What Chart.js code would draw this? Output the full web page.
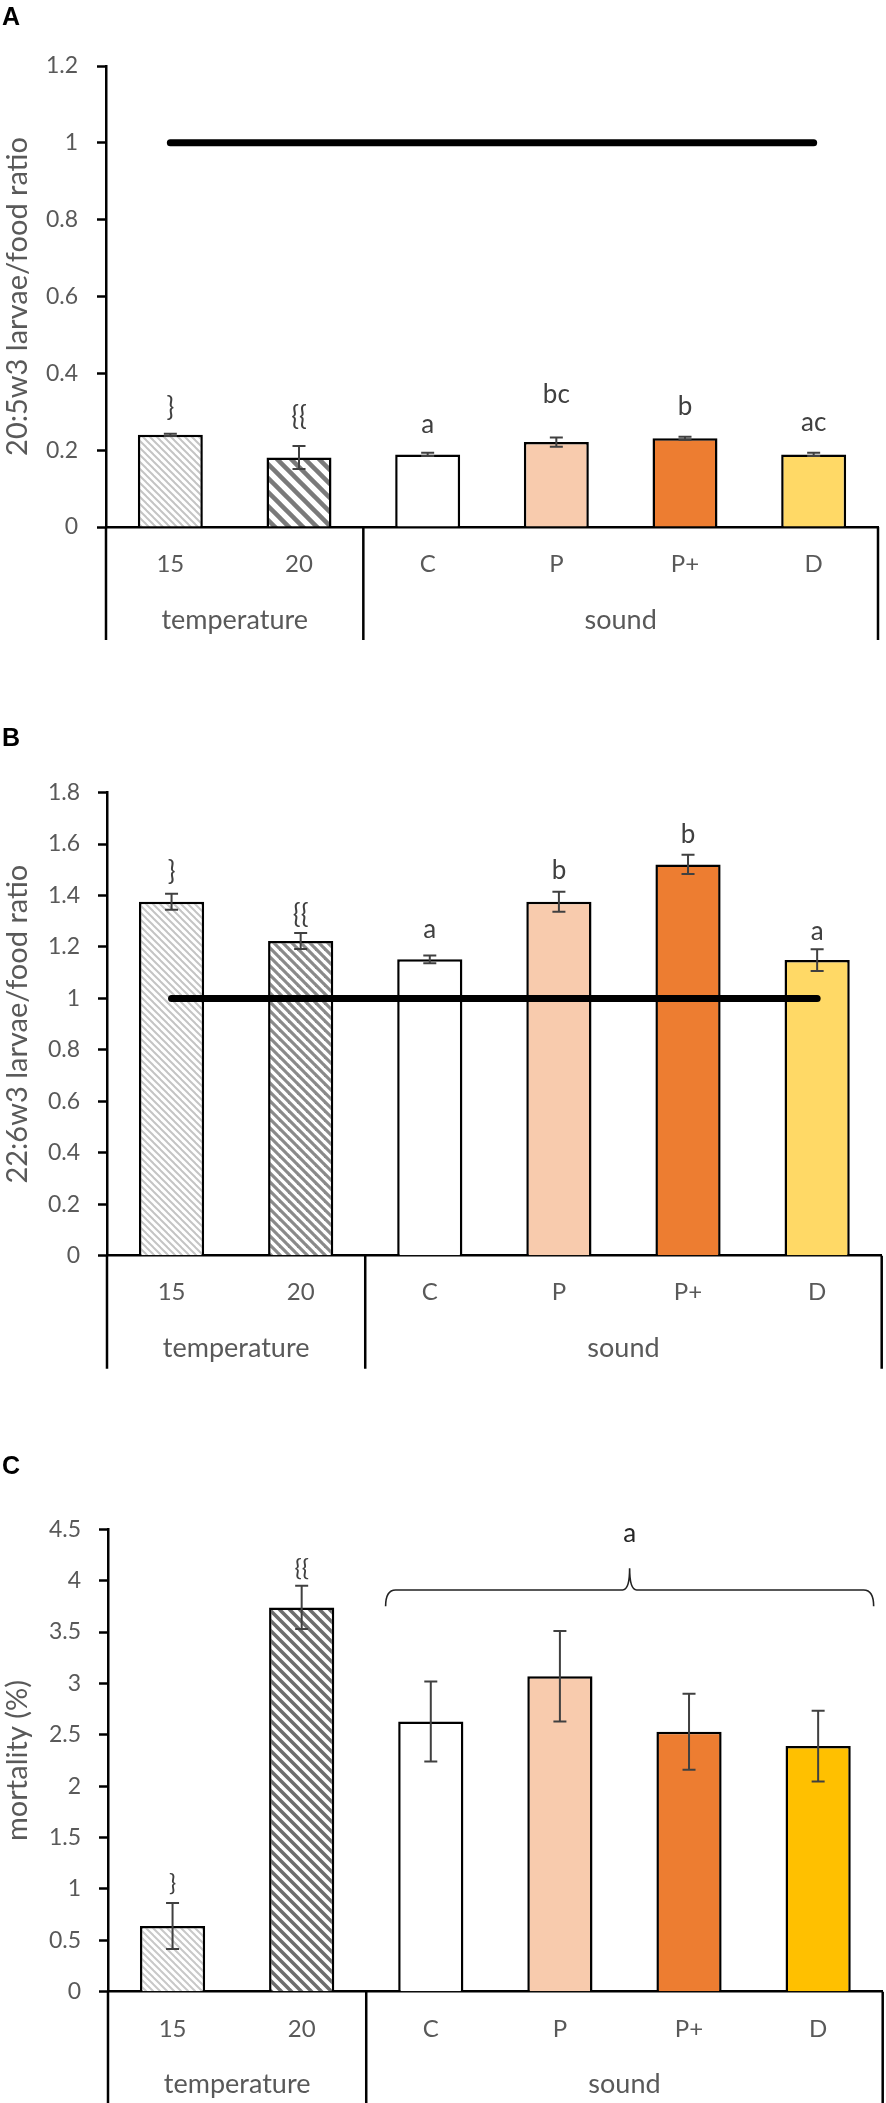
<!DOCTYPE html>
<html>
<head>
<meta charset="utf-8">
<script src="https://cdn.jsdelivr.net/npm/chart.js@4.4.1/dist/chart.umd.min.js"></script>
<style>
  body { margin: 0; background: #fff; width: 886px; height: 2103px; position: relative; overflow: hidden; }
  .panel { position: absolute; left: 0; width: 886px; }
  .tag { position: absolute; left: 2px; font: bold 25px "Liberation Sans", Arial, sans-serif; line-height: 25px; color: #000; }
</style>
</head>
<body>
<div class="panel" style="top:0;height:660px"><canvas id="chartA"></canvas></div>
<div class="panel" style="top:660px;height:730px"><canvas id="chartB"></canvas></div>
<div class="panel" style="top:1390px;height:713px"><canvas id="chartC"></canvas></div>
<div class="tag" style="top:4px">A</div>
<div class="tag" style="top:725px">B</div>
<div class="tag" style="top:1453px">C</div>
<script>
// categories and groups
const categories = ['15', '20', 'C', 'P', 'P+', 'D'];
const groupNames = ['temperature', 'sound'];
const groupSpans = [[0, 1], [2, 5]];

// A: 20:5w3 larvae/food ratio
const ratioA = [0.240, 0.181, 0.189, 0.221, 0.231, 0.189];
const errA = [0.003, 0.030, 0.004, 0.012, 0.004, 0.004];
const lettersA = ['}', '{{', 'a', 'bc', 'b', 'ac'];

// B: 22:6w3 larvae/food ratio
const ratioB = [1.376, 1.223, 1.152, 1.376, 1.521, 1.149];
const errB = [0.031, 0.031, 0.015, 0.039, 0.037, 0.042];
const lettersB = ['}', '{{', 'a', 'b', 'b', 'a'];

// C: mortality (%)
const mortalityC = [0.64, 3.74, 2.63, 3.07, 2.53, 2.39];
const errC = [0.224, 0.21, 0.39, 0.44, 0.37, 0.345];
const lettersC = ['}', '{{', '', '', '', ''];
const soundLetterC = 'a';

// reference line: larvae/food ratio = 1
const refLevel = 1;

// y axis ticks
const ticksA = { min: 0, max: 1.2, step: 0.2 };
const ticksB = { min: 0, max: 1.8, step: 0.2 };
const ticksC = { min: 0, max: 4.5, step: 0.5 };

function hatch(color, period, lineW) {
  const c = document.createElement('canvas');
  c.width = period; c.height = period;
  const g = c.getContext('2d');
  g.fillStyle = '#fff';
  g.fillRect(0, 0, period, period);
  g.strokeStyle = color;
  g.lineWidth = lineW;
  for (let k = -1; k <= 1; k++) {
    g.beginPath();
    g.moveTo(-period, -period + k * period);
    g.lineTo(2 * period, 2 * period + k * period);
    g.stroke();
  }
  return g.createPattern(c, 'repeat');
}

const tickFmt = v => String(+v.toFixed(2));

// draws error bars, letters, group brackets and the brace
const decor = {
  id: 'decor',
  afterDatasetsDraw(chart, args, o) {
    const { ctx, scales: { y } } = chart;
    const meta = chart.getSortedVisibleDatasetMetas().find(m => m.type === 'bar');
    ctx.save();
    ctx.strokeStyle = o.errColor;
    ctx.lineWidth = 2;
    meta.data.forEach((bar, i) => {
      const v = o.values[i], e = o.errors[i];
      const yt = y.getPixelForValue(v + e), yb = y.getPixelForValue(v - e);
      ctx.beginPath();
      ctx.moveTo(bar.x, yt); ctx.lineTo(bar.x, yb);
      ctx.moveTo(bar.x - 6.5, yt); ctx.lineTo(bar.x + 6.5, yt);
      ctx.moveTo(bar.x - 6.5, yb); ctx.lineTo(bar.x + 6.5, yb);
      ctx.stroke();
    });
    ctx.fillStyle = o.letterColor;
    ctx.font = o.letterFont;
    ctx.textAlign = 'center';
    ctx.textBaseline = 'middle';
    meta.data.forEach((bar, i) => {
      if (!o.letters[i]) return;
      const yt = y.getPixelForValue(o.values[i] + o.errors[i]);
      ctx.fillText(o.letters[i], bar.x, yt - o.letterGap[i]);
    });
    ctx.restore();
  },
  afterDraw(chart, args, o) {
    const { ctx, chartArea: ca, scales: { x, y } } = chart;
    ctx.save();
    ctx.strokeStyle = '#000';
    ctx.lineWidth = 2.5;
    const sep = (x.getPixelForValue(groupSpans[0][1]) + x.getPixelForValue(groupSpans[1][0])) / 2;
    ctx.beginPath();
    [ca.left, sep, ca.right].forEach(px => {
      ctx.moveTo(px, ca.bottom); ctx.lineTo(px, ca.bottom + o.bracketDepth);
    });
    ctx.stroke();
    ctx.fillStyle = '#595959';
    ctx.font = o.groupFont;
    ctx.textAlign = 'center';
    ctx.textBaseline = 'middle';
    groupNames.forEach((name, g) => {
      const cx = (x.getPixelForValue(groupSpans[g][0]) + x.getPixelForValue(groupSpans[g][1])) / 2;
      ctx.fillText(name, cx, ca.bottom + o.groupOffset);
    });
    if (o.brace) {
      const b = o.brace;
      const xL = x.getPixelForValue(b.from), xR = x.getPixelForValue(b.to);
      const xM = (xL + xR) / 2;
      const yL = y.getPixelForValue(b.level), yH = y.getPixelForValue(b.level - b.hook), yP = y.getPixelForValue(b.level + b.peak);
      ctx.lineWidth = 1.6;
      ctx.strokeStyle = '#222';
      ctx.beginPath();
      ctx.moveTo(xL, yH);
      ctx.quadraticCurveTo(xL, yL, xL + 10, yL);
      ctx.lineTo(xM - 7, yL);
      ctx.quadraticCurveTo(xM, yL, xM, yP);
      ctx.quadraticCurveTo(xM, yL, xM + 7, yL);
      ctx.lineTo(xR - 10, yL);
      ctx.quadraticCurveTo(xR, yL, xR, yH);
      ctx.stroke();
      ctx.fillStyle = '#262626';
      ctx.font = b.font;
      ctx.fillText(b.label, xM, y.getPixelForValue(b.labelLevel));
    }
    ctx.restore();
  }
};

function makePanel(id, p) {
  const datasets = [];
  if (p.ref) {
    datasets.push({
      type: 'line', data: categories.map(() => refLevel),
      borderColor: '#000', borderWidth: 7, borderCapStyle: 'round',
      pointRadius: 0, order: 0
    });
  }
  datasets.push({
    data: p.values, backgroundColor: p.fills, borderColor: '#000', borderWidth: 2.5,
    barPercentage: 0.505, categoryPercentage: 1, order: 1
  });
  return new Chart(document.getElementById(id), {
    type: 'bar',
    data: { labels: categories, datasets },
    options: {
      responsive: true, maintainAspectRatio: false, animation: false, events: [],
      layout: { padding: p.padding },
      plugins: {
        legend: { display: false }, tooltip: { enabled: false },
        decor: {
          values: p.values, errors: p.errors, letters: p.letters, letterGap: p.letterGap,
          errColor: '#404040', letterColor: '#404040', letterFont: p.letterFont,
          groupFont: '27px Lato', groupOffset: 93, bracketDepth: p.bracketDepth,
          brace: p.brace
        }
      },
      scales: {
        x: {
          z: 1,
          grid: { display: false, drawTicks: false },
          border: { display: true, color: '#000', width: 2.5 },
          ticks: { color: '#595959', font: { family: 'Lato', size: 24 }, padding: p.xPad },
          afterFit: s => { s.height = p.xHeight; }
        },
        y: {
          min: p.ticks.min, max: p.ticks.max,
          grid: { drawOnChartArea: false, drawTicks: true, tickLength: 9, tickColor: '#000', tickWidth: 2.5 },
          border: { display: true, color: '#000', width: 2.5 },
          ticks: { stepSize: p.ticks.step, color: '#595959', font: { family: 'Lato', size: 23 }, padding: p.yPad, callback: tickFmt },
          title: { display: true, text: p.title, color: '#595959', font: { family: 'Lato', size: 29 }, padding: 0 },
          afterFit: s => { s.width = p.yWidth; }
        }
      }
    },
    plugins: [decor]
  });
}

makePanel('chartA', {
  values: ratioA, errors: errA, letters: lettersA, letterGap: [26, 29, 28, 43, 30, 30],
  fills: [hatch('#c4c4c4', 7, 2), hatch('#7a7a7a', 14, 4.5), '#ffffff', '#f8cbad', '#ed7d31', '#ffd966'],
  ref: true, ticks: ticksA, title: '20:5w3 larvae/food ratio',
  padding: { top: 66, right: 8, left: 0, bottom: 0 }, yWidth: 106, xHeight: 133,
  letterFont: '26px Lato', xPad: 23, yPad: 19, bracketDepth: 113
});

makePanel('chartB', {
  values: ratioB, errors: errB, letters: lettersB, letterGap: [22, 18, 26, 21, 20, 18],
  fills: [hatch('#c4c4c4', 7, 2), hatch('#8a8a8a', 9, 3.2), '#ffffff', '#f8cbad', '#ed7d31', '#ffd966'],
  ref: true, ticks: ticksB, title: '22:6w3 larvae/food ratio',
  padding: { top: 132.6, right: 4.3, left: 0, bottom: 0 }, yWidth: 107, xHeight: 134.3,
  letterFont: '26px Lato', xPad: 22, yPad: 18, bracketDepth: 113
});

makePanel('chartC', {
  values: mortalityC, errors: errC, letters: lettersC, letterGap: [20, 18, 0, 0, 0, 0],
  fills: [hatch('#c8c8c8', 7, 2), hatch('#6e6e6e', 10, 3.5), '#ffffff', '#f8cbad', '#ed7d31', '#ffc000'],
  ref: false, ticks: ticksC, title: 'mortality (%)',
  padding: { top: 139.3, right: 3.3, left: 0, bottom: 0 }, yWidth: 108, xHeight: 111.3,
  letterFont: '24px Lato', xPad: 23, yPad: 18, bracketDepth: 112,
  brace: { from: 1.65, to: 5.43, level: 3.91, hook: 0.16, peak: 0.21, labelLevel: 4.46, label: soundLetterC, font: '26px Lato' }
});
</script>
</body>
</html>
